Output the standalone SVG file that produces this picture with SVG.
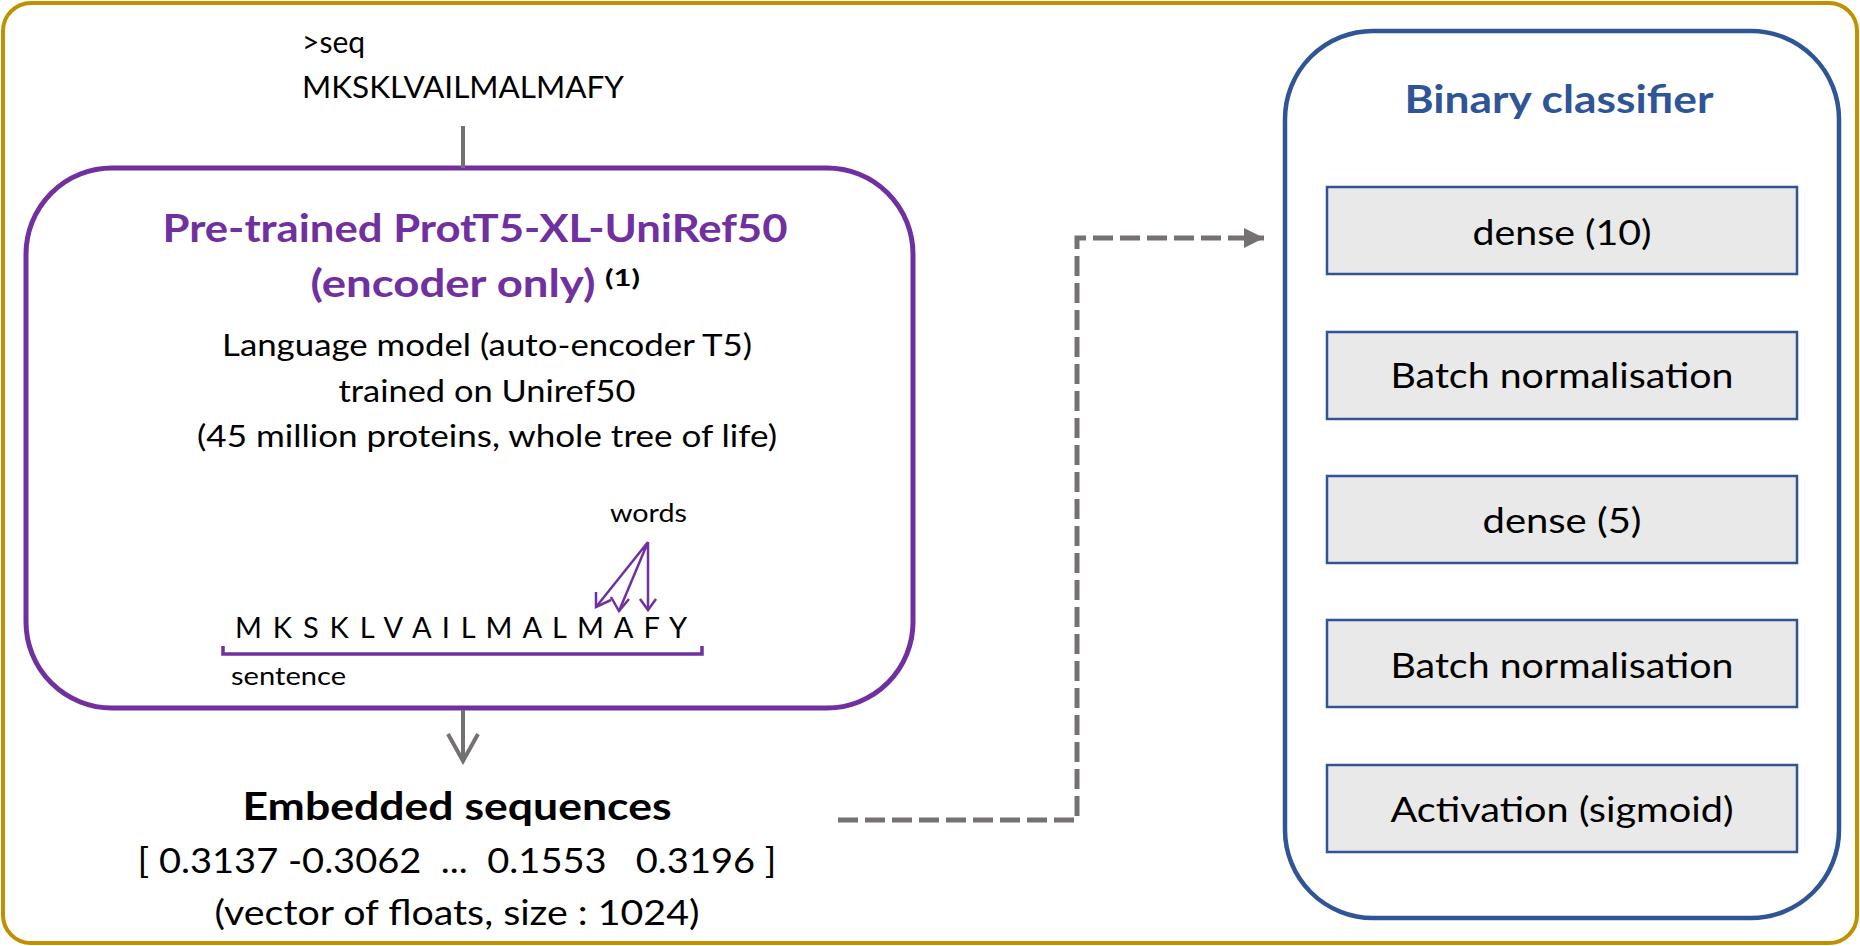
<svg xmlns="http://www.w3.org/2000/svg" width="1860" height="946" viewBox="0 0 1860 946">
<defs>
<style>
text{font-family:Lato,"Open Sans","Liberation Sans",sans-serif;fill:#000}
.c{text-anchor:middle}
.b{font-weight:bold}
.purple{fill:#7030A0}
.blue{fill:#2F5597}
.layer rect{fill:#E9E9E9;stroke:#2F5597;stroke-width:2.5}
.layer text{font-size:35px;text-anchor:middle}
.gray{stroke:#767171;stroke-width:4;fill:none}
.pl{stroke:#7030A0;stroke-width:2.5;fill:none}
</style>
<marker id="tri" markerWidth="20" markerHeight="20" refX="20" refY="10" orient="auto" markerUnits="userSpaceOnUse">
<path d="M0,0 L20,10 L0,20 Z" fill="#767171"/>
</marker>
</defs>
<rect width="1860" height="946" fill="#fff"/>
<rect id="frame" x="3" y="3" width="1854" height="940" rx="28" fill="none" stroke="#BF9000" stroke-width="4"/>

<g id="input">
<text x="302" y="53" font-size="30">&gt;seq</text>
<text x="302" y="98" font-size="30" textLength="322" lengthAdjust="spacingAndGlyphs">MKSKLVAILMALMAFY</text>
</g>

<g id="encoder">
<rect x="26" y="168" width="887" height="540" rx="86" fill="none" stroke="#7030A0" stroke-width="5"/>
<text class="c b purple" x="475" y="242" font-size="39" textLength="625" lengthAdjust="spacingAndGlyphs">Pre-trained ProtT5-XL-UniRef50</text>
<text class="c b purple" x="453" y="297" font-size="39" textLength="285" lengthAdjust="spacingAndGlyphs">(encoder only)</text>
<text class="b" x="605" y="286" font-size="22" textLength="35" lengthAdjust="spacingAndGlyphs">(1)</text>
<text class="c" x="487" y="356" font-size="30" textLength="530" lengthAdjust="spacingAndGlyphs">Language model (auto-encoder T5)</text>
<text class="c" x="487" y="402" font-size="30" textLength="297" lengthAdjust="spacingAndGlyphs">trained on Uniref50</text>
<text class="c" x="487" y="447" font-size="30" textLength="580" lengthAdjust="spacingAndGlyphs">(45 million proteins, whole tree of life)</text>
<text x="610" y="522" font-size="25" textLength="77" lengthAdjust="spacingAndGlyphs">words</text>
<path class="pl" d="M648,542 L596,607 M648,542 L619,611 M648,542 L648,610"/>
<path class="pl" d="M596,592 L596,607 L611,600 M611,597 L619,611 L629,599 M640,599 L648,610 L656,599"/>
<text x="235" y="638" font-size="29" textLength="452" lengthAdjust="spacing">M K S K L V A I L M A L M A F Y</text>
<path d="M223,646 L223,654 L702,654 L702,646" fill="none" stroke="#7030A0" stroke-width="3.5"/>
<text x="231" y="685" font-size="25" textLength="115" lengthAdjust="spacingAndGlyphs">sentence</text>
</g>

<g id="embedded">
<text class="c b" x="457" y="820" font-size="39" textLength="429" lengthAdjust="spacingAndGlyphs">Embedded sequences</text>
<text class="c" x="457" y="873" font-size="35" textLength="639" lengthAdjust="spacingAndGlyphs" xml:space="preserve">[ 0.3137 -0.3062  ...  0.1553   0.3196 ]</text>
<text class="c" x="457" y="925" font-size="35" textLength="485" lengthAdjust="spacingAndGlyphs">(vector of floats, size : 1024)</text>
</g>

<g id="classifier">
<rect x="1285" y="31" width="554" height="887" rx="88" fill="none" stroke="#2F5597" stroke-width="4.5"/>
<text class="c b blue" x="1559" y="113" font-size="39" textLength="309" lengthAdjust="spacingAndGlyphs">Binary classifier</text>
<g id="layer1" class="layer"><rect x="1327" y="187" width="470" height="87"/><text x="1562" y="245" textLength="179" lengthAdjust="spacingAndGlyphs">dense (10)</text></g>
<g id="layer2" class="layer"><rect x="1327" y="332" width="470" height="87"/><text x="1562" y="388" textLength="343" lengthAdjust="spacingAndGlyphs">Batch normalisation</text></g>
<g id="layer3" class="layer"><rect x="1327" y="476" width="470" height="87"/><text x="1562" y="533" textLength="159" lengthAdjust="spacingAndGlyphs">dense (5)</text></g>
<g id="layer4" class="layer"><rect x="1327" y="620" width="470" height="87"/><text x="1562" y="678" textLength="343" lengthAdjust="spacingAndGlyphs">Batch normalisation</text></g>
<g id="layer5" class="layer"><rect x="1327" y="765" width="470" height="87"/><text x="1562" y="822" textLength="343" lengthAdjust="spacingAndGlyphs">Activation (sigmoid)</text></g>
</g>

<g id="connectors">
<line class="gray" x1="463" y1="126" x2="463" y2="168"/>
<line class="gray" x1="463" y1="710" x2="463" y2="760"/>
<path class="gray" d="M448,734 L463,761 L478,734"/>
<path d="M838,820 L1077,820 L1077,238 L1264,238" fill="none" stroke="#767171" stroke-width="5" stroke-dasharray="20,7" marker-end="url(#tri)"/>
</g>
</svg>
